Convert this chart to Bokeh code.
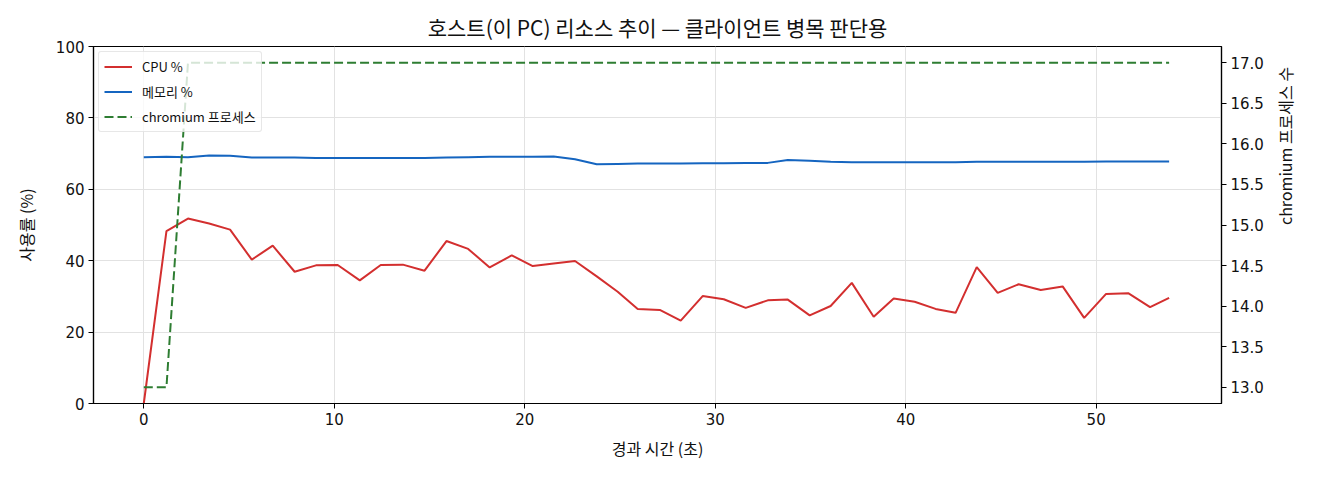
import math

from bokeh.embed import file_html
from bokeh.models import LinearAxis, Range1d, Legend, LegendItem, FixedTicker, NumeralTickFormatter
from bokeh.plotting import figure
from bokeh.resources import INLINE

# elapsed seconds for each sample
elapsed = [0.0, 1.19, 2.32, 3.43, 4.53, 5.67, 6.77, 7.92, 9.04, 10.18,
           11.34, 12.44, 13.60, 14.74, 15.89, 17.03, 18.16, 19.32, 20.42, 21.52,
           22.64, 23.78, 24.88, 25.93, 27.09, 28.19, 29.34, 30.45, 31.60, 32.76,
           33.81, 34.96, 36.06, 37.17, 38.32, 39.37, 40.47, 41.57, 42.62, 43.73,
           44.83, 45.93, 47.09, 48.24, 49.37, 50.52, 51.68, 52.83, 53.83]

cpu_pct = [0.0, 48.3, 51.8, 50.4, 48.7, 40.3, 44.2, 36.9, 38.7, 38.8,
           34.5, 38.8, 38.9, 37.2, 45.5, 43.3, 38.1, 41.5, 38.5, 39.2,
           39.9, 35.6, 31.3, 26.5, 26.2, 23.2, 30.1, 29.2, 26.8, 28.9,
           29.1, 24.7, 27.3, 33.8, 24.3, 29.4, 28.5, 26.5, 25.4, 38.2,
           31.0, 33.4, 31.8, 32.8, 24.0, 30.7, 30.9, 27.0, 29.6]

mem_pct = [69.0, 69.1, 69.0, 69.5, 69.4, 68.9, 68.9, 68.9, 68.8, 68.8,
           68.8, 68.8, 68.8, 68.8, 68.9, 69.0, 69.1, 69.1, 69.1, 69.2,
           68.4, 67.0, 67.1, 67.2, 67.2, 67.2, 67.3, 67.3, 67.4, 67.4,
           68.2, 68.0, 67.7, 67.6, 67.6, 67.6, 67.6, 67.6, 67.6, 67.7,
           67.7, 67.7, 67.7, 67.7, 67.7, 67.8, 67.8, 67.8, 67.8]

chromium_procs = [13, 13] + [17] * 47

x_ticks = [0, 10, 20, 30, 40, 50]
left_ticks = [0, 20, 40, 60, 80, 100]
right_ticks = [13.0, 13.5, 14.0, 14.5, 15.0, 15.5, 16.0, 16.5, 17.0]

FONT = "Noto Sans CJK KR"
TICK_FONT = "DejaVu Sans"

p = figure(width=1312, height=466,
           x_range=Range1d(-2.64, 56.58), y_range=Range1d(0, 100),
           output_backend="svg", toolbar_location=None,
           title="호스트(이 PC) 리소스 추이 — 클라이언트 병목 판단용",
           min_border_left=93, min_border_right=91, min_border_top=46, min_border_bottom=63)
p.extra_y_ranges = {"proc": Range1d(12.8, 17.2)}

p.title.align = "center"
p.title.text_font = FONT
p.title.text_font_size = "21px"
p.title.text_font_style = "normal"
p.title.text_color = "#111111"

p.outline_line_color = "black"
p.outline_line_width = 1.2

p.xgrid.grid_line_color = "#e2e2e2"
p.ygrid.grid_line_color = "#e2e2e2"

p.xaxis.ticker = FixedTicker(ticks=x_ticks)
p.yaxis.ticker = FixedTicker(ticks=left_ticks)
p.xaxis.axis_label = "경과 시간 (초)"
p.yaxis.axis_label = "사용률 (%)"

right = LinearAxis(y_range_name="proc", axis_label="chromium 프로세스 수")
right.ticker = FixedTicker(ticks=right_ticks)
right.formatter = NumeralTickFormatter(format="0.0")
right.axis_label_orientation = math.pi / 2
p.add_layout(right, "right")

for ax in p.xaxis + p.yaxis + [right]:
    ax.axis_line_color = "black"
    ax.axis_line_width = 1.2
    ax.major_tick_line_color = "black"
    ax.major_tick_out = 5
    ax.major_tick_in = 0
    ax.minor_tick_line_color = None
    ax.major_label_text_font = TICK_FONT
    ax.major_label_text_font_size = "15px"
    ax.major_label_text_color = "#111111"
    ax.major_label_standoff = 4
    ax.axis_label_text_font = FONT
    ax.axis_label_text_font_size = "16px"
    ax.axis_label_text_font_style = "normal"
    ax.axis_label_text_color = "#111111"
    ax.axis_label_standoff = 8

p.yaxis.axis_label_standoff = 15
right.axis_label_standoff = 18

r_cpu = p.line(elapsed, cpu_pct, line_color="#d32f2f", line_width=2)
r_mem = p.line(elapsed, mem_pct, line_color="#1565c0", line_width=2)
r_proc = p.line(elapsed, chromium_procs, y_range_name="proc",
                line_color="#2e7d32", line_width=2, line_dash="9 4")

legend = Legend(items=[LegendItem(label="CPU %", renderers=[r_cpu]),
                       LegendItem(label="메모리 %", renderers=[r_mem]),
                       LegendItem(label="chromium 프로세스", renderers=[r_proc])],
                location="top_left")
legend.label_text_font = FONT
legend.label_text_font_size = "13px"
legend.label_text_color = "#111111"
legend.glyph_width = 28
legend.glyph_height = 17
legend.label_height = 17
legend.label_standoff = 10
legend.spacing = 6
legend.padding = 5
legend.margin = 5
legend.border_line_color = "#d0d0d0"
legend.border_radius = 3
legend.background_fill_alpha = 0.8
p.add_layout(legend)

open("out.html", "w").write(file_html(p, INLINE))
